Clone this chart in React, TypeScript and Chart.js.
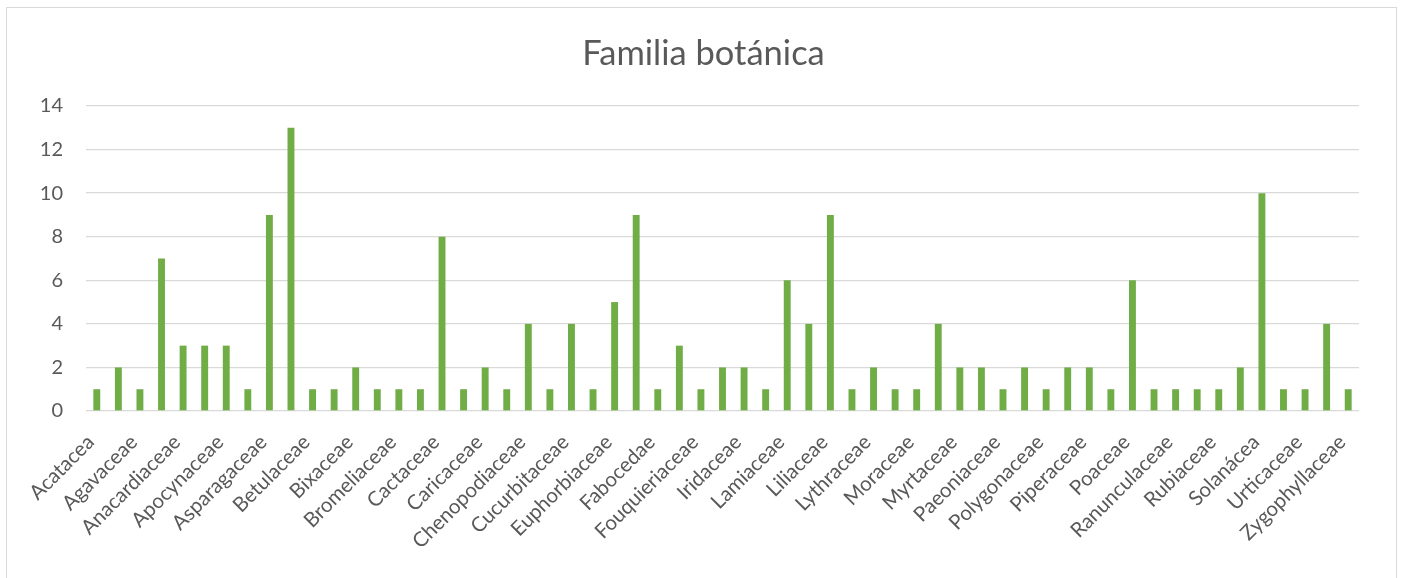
import React, { useEffect, useRef } from 'react';
import { Chart, registerables } from 'chart.js';

Chart.register(...registerables);

const families: string[] = [
  'Acatacea', 'Adoxaceae', 'Agavaceae', 'Amaranthaceae', 'Anacardiaceae', 'Annonaceae',
  'Apocynaceae', 'Araceae', 'Asparagaceae', 'Asteraceae', 'Betulaceae', 'Bignoniaceae',
  'Bixaceae', 'Boraginaceae', 'Bromeliaceae', 'Burseraceae', 'Cactaceae', 'Cannabaceae',
  'Caricaceae', 'Caryophyllaceae', 'Chenopodiaceae', 'Crassulaceae', 'Cucurbitaceae', 'Cupressaceae',
  'Euphorbiaceae', 'Fabaceae', 'Fabocedae', 'Fagaceae', 'Fouquieriaceae', 'Geraniaceae',
  'Iridaceae', 'Juglandaceae', 'Lamiaceae', 'Lauraceae', 'Liliaceae', 'Loranthaceae',
  'Lythraceae', 'Malvaceae', 'Moraceae', 'Musaceae', 'Myrtaceae', 'Oleaceae',
  'Paeoniaceae', 'Papaveraceae', 'Polygonaceae', 'Pinaceae', 'Piperaceae', 'Plantaginaceae',
  'Poaceae', 'Portulacaceae', 'Ranunculaceae', 'Rosaceae', 'Rubiaceae', 'Rutaceae',
  'Solanácea', 'Tropaeolaceae', 'Urticaceae', 'Verbenaceae', 'Zygophyllaceae',
];

const counts: number[] = [
  1, 2, 1, 7, 3, 3, 3, 1, 9, 13,
  1, 1, 2, 1, 1, 1, 8, 1, 2, 1,
  4, 1, 4, 1, 5, 9, 1, 3, 1, 2,
  2, 1, 6, 4, 9, 1, 2, 1, 1, 4,
  2, 2, 1, 2, 1, 2, 2, 1, 6, 1,
  1, 1, 1, 2, 10, 1, 1, 4, 1,
];

const chartTitle = 'Familia botánica';
const yMin = 0;
const yMax = 14;
const yStep = 2;

const TEXT = '#595959';
const GRID = '#d9d9d9';
const BAR = '#70AD47';
const FONT = 'Lato, "Open Sans", sans-serif';

const titlePlugin = {
  id: 'centeredTitle',
  afterDraw(chart: any) {
    const ctx = chart.ctx as CanvasRenderingContext2D;
    ctx.save();
    ctx.fillStyle = TEXT;
    ctx.font = `normal 34.5px ${FONT}`;
    ctx.textAlign = 'center';
    ctx.textBaseline = 'alphabetic';
    ctx.fillText(chartTitle, chart.width / 2, 65);
    ctx.restore();
  },
};

export default function App() {
  const ref = useRef<HTMLCanvasElement>(null);

  useEffect(() => {
    document.body.style.margin = '0';
    const chart = new Chart(ref.current as HTMLCanvasElement, {
      type: 'bar',
      data: {
        labels: families,
        datasets: [
          {
            data: counts,
            backgroundColor: BAR,
            barPercentage: 0.32,
            categoryPercentage: 1,
          },
        ],
      },
      plugins: [titlePlugin],
      options: {
        responsive: false,
        animation: false,
        layout: { padding: { left: 0, right: 48, top: 106, bottom: 0 } },
        plugins: {
          legend: { display: false },
          tooltip: { enabled: false },
          title: { display: false },
        },
        scales: {
          x: {
            grid: { display: false, drawTicks: false },
            border: { display: false },
            ticks: {
              autoSkip: false,
              minRotation: 45,
              maxRotation: 45,
              color: TEXT,
              padding: 19,
              labelOffset: -6,
              font: { family: FONT, size: 20.5 },
              callback: (_v: any, i: number) => (i % 2 === 0 ? families[i] : ''),
            },
            afterFit: (s: any) => {
              s.height = 167;
            },
          },
          y: {
            min: yMin,
            max: yMax,
            ticks: {
              stepSize: yStep,
              color: TEXT,
              padding: 23,
              font: { family: FONT, size: 20 },
            },
            grid: { color: GRID, lineWidth: 1.3, drawTicks: false },
            border: { display: false },
            afterFit: (s: any) => {
              s.width = 86;
            },
          },
        },
      },
    });
    return () => chart.destroy();
  }, []);

  return (
    <div style={{ position: 'relative', width: 1407, height: 578, overflow: 'hidden', background: '#fff' }}>
      <canvas ref={ref} width={1407} height={578} style={{ position: 'absolute', left: 0, top: 0 }} />
      <div
        style={{
          position: 'absolute',
          left: 6,
          top: 7,
          width: 1391,
          height: 571,
          boxSizing: 'border-box',
          border: `1.5px solid ${GRID}`,
          borderBottom: 'none',
          pointerEvents: 'none',
        }}
      />
    </div>
  );
}
